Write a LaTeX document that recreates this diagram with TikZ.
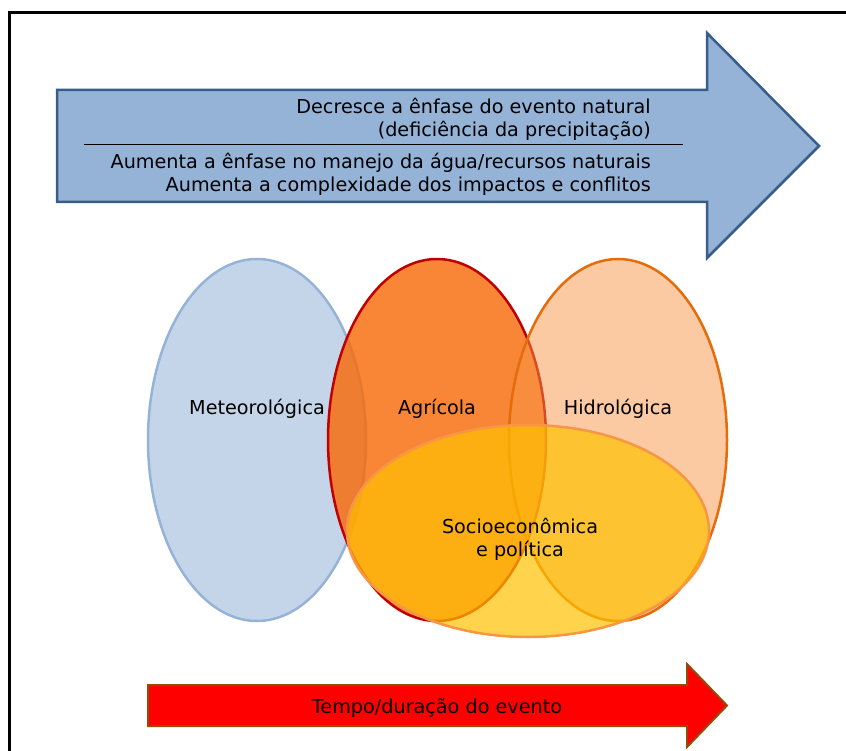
\documentclass[tikz,border=0pt]{standalone}
\usepackage{fontspec}
\setmainfont{DejaVu Sans}
\usetikzlibrary{shapes.geometric}
\definecolor{azul}{HTML}{95B3D7}
\definecolor{azulborda}{HTML}{385D8A}
\definecolor{meteocor}{HTML}{95B3D7}
\definecolor{agricor}{HTML}{F86A0A}
\definecolor{agriborda}{HTML}{C00000}
\definecolor{hidrocor}{HTML}{F79646}
\definecolor{hidroborda}{HTML}{E46C0A}
\definecolor{sociocor}{HTML}{FFC000}
\definecolor{socioborda}{HTML}{F79646}
\definecolor{tempoborda}{HTML}{984807}
\begin{document}
\begin{tikzpicture}[x=1pt,y=-1pt,
  txt/.style={font=\fontsize{19.2}{22.8}\selectfont, inner sep=0pt},
  seca/.style={draw, ellipse, line width=2.5pt, inner sep=0pt},
  vertical/.style={seca, minimum width=218pt, minimum height=362pt}]
\useasboundingbox (0,0) rectangle (846,751);
\draw [line width=3pt] (9.5,751) -- (9.5,12.5) -- (846,12.5);

% seta de cima
\draw [fill=azul, draw=azulborda, line width=2.5pt] (57,90) -- (707,90) -- (707,33) -- (819,146)
  -- (707,258) -- (707,202) -- (57,202) -- cycle;
\node [txt, anchor=east, align=right] (natural) at (651,119.5) {Decresce a ênfase do evento natural\\(deficiência da precipitação)};
\draw [line width=0.8pt] (84,144) -- (683,144);
\node [txt, anchor=east, align=right] (manejo) at (651,174) {Aumenta a ênfase no manejo da água/recursos naturais\\Aumenta a complexidade dos impactos e conflitos};

% secas
\node [vertical, fill=meteocor, fill opacity=0.55, draw=meteocor] (meteo) at (257,440) {};
\node [vertical, fill=agricor, fill opacity=0.82, draw=agriborda] (agri) at (437,440) {};
\node [vertical, fill=hidrocor, fill opacity=0.5, draw=hidroborda] (hidro) at (618,440) {};
\node [seca, minimum width=362pt, minimum height=212pt, fill=sociocor, fill opacity=0.7, draw=socioborda] (socio) at (528,531) {};
\node [txt] (lmeteo) at (257,409) {Meteorológica};
\node [txt] (lagri) at (437,409) {Agrícola};
\node [txt] (lhidro) at (618,409) {Hidrológica};
\node [txt, align=center] (lsocio) at (520,539.5) {Socioeconômica\\e política};

% seta de baixo
\draw [fill=red, draw=tempoborda, line width=2pt] (148,685) -- (687,685) -- (687,664) -- (727,705.5)
  -- (687,747) -- (687,726) -- (148,726) -- cycle;
\node [txt] (tempo) at (437,708) {Tempo/duração do evento};
\end{tikzpicture}
\end{document}
